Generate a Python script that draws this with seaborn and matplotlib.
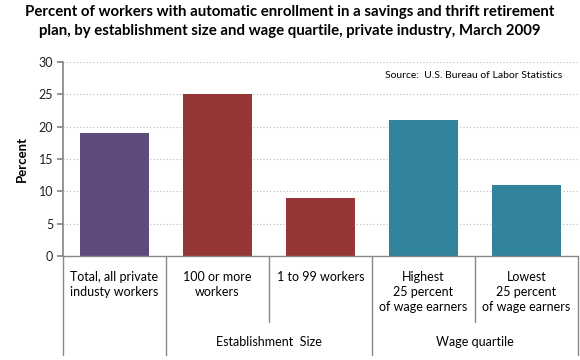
import matplotlib
matplotlib.use("Agg")
import matplotlib.pyplot as plt
import matplotlib.transforms as mtransforms
import seaborn as sns
import pandas as pd

# Chart data
categories = ["Total, all private\nindusty workers", "100 or more\nworkers", "1 to 99 workers",
              "Highest\n25 percent\nof wage earners", "Lowest\n25 percent\nof wage earners"]
values = [19, 25, 9, 21, 11]
bar_colors = ["#604A7B", "#953735", "#953735", "#31849B", "#31849B"]
groups = ["Establishment  Size", "Wage quartile"]
group_spans = [(1, 2), (3, 4)]
yticks = [0, 5, 10, 15, 20, 25, 30]

sns.set_theme(style="white")
plt.rcParams["font.family"] = ["Lato", "DejaVu Sans"]

df = pd.DataFrame({"cat": categories, "val": values})

fig = plt.figure(figsize=(5.8, 3.6), dpi=100)
ax = fig.add_axes([0.1086, 0.2889, 0.888, 0.539])

sns.barplot(data=df, x="cat", y="val", hue="cat", palette=bar_colors,
            width=0.67, legend=False, ax=ax, saturation=1, linewidth=0)

ax.set_ylim(0, 30)
ax.set_xlim(-0.5, len(categories) - 0.5)
ax.set_yticks(yticks)
ax.tick_params(axis="y", labelsize=9, length=4, color="#888888", direction="out",
               left=True, pad=3, labelcolor="#222222")
ax.set_xticks([])
ax.set_xlabel("")
ax.set_ylabel("Percent", fontsize=9.5, fontweight="bold", labelpad=8, color="black")
ax.yaxis.grid(True, linestyle=(0, (1, 2)), color="#BBBBBB", linewidth=0.8)
ax.set_axisbelow(True)
for s in ["top", "right", "bottom"]:
    ax.spines[s].set_visible(False)
ax.spines["left"].set_color("#888888")
ax.axhline(0, color="#888888", linewidth=1, clip_on=False)

# category labels and separator lines below the axis
trans = mtransforms.blended_transform_factory(ax.transData, ax.transAxes)
for i, lab in enumerate(categories):
    ax.text(i, -0.075, lab, transform=trans, ha="center", va="top", fontsize=9,
            linespacing=1.3, color="black")

long_edges = [-0.5, 0.5, 2.5, 4.5]
short_edges = [1.5, 3.5]
for x in long_edges:
    ax.plot([x, x], [0, -0.51], transform=trans, color="#888888", linewidth=1, clip_on=False)
for x in short_edges:
    ax.plot([x, x], [0, -0.34], transform=trans, color="#888888", linewidth=1, clip_on=False)

for g, (a, b) in zip(groups, group_spans):
    ax.text((a + b) / 2, -0.445, g, transform=trans, ha="center", va="center", fontsize=9,
            color="black")

ax.text(0.97, 0.93, "Source:  U.S. Bureau of Labor Statistics", transform=ax.transAxes,
        ha="right", va="center", fontsize=7.5, color="black")

fig.suptitle("Percent of workers with automatic enrollment in a savings and thrift retirement\n"
             "plan, by establishment size and wage quartile, private industry, March 2009",
             x=0.5, y=0.985, fontsize=10.8, fontweight="bold", linespacing=1.45, color="black")

fig.savefig("out.png", dpi=100)
